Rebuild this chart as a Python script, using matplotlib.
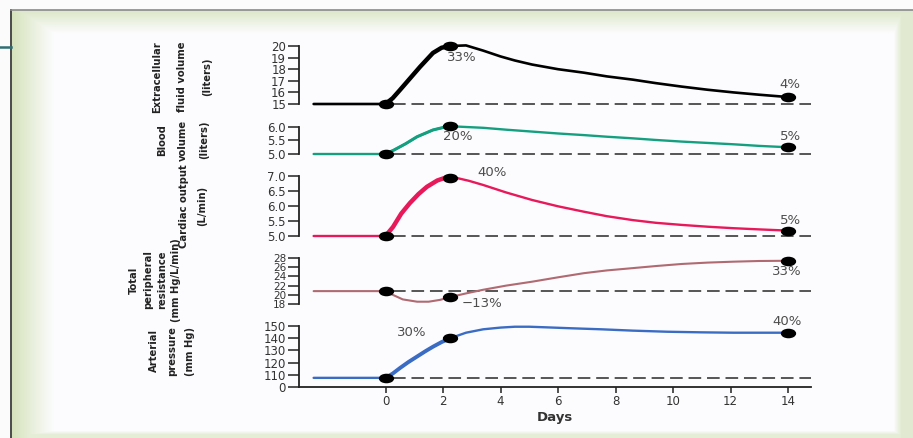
import numpy as np
import matplotlib
matplotlib.use("Agg")
import matplotlib.pyplot as plt
from matplotlib.path import Path
from matplotlib.transforms import Affine2D

# ---- data ----
ecf_days = [-2.5, 0, 0.25, 0.5, 0.85, 1.2, 1.65, 1.95, 2.24, 2.8, 3.4, 4.0, 4.5, 5.1,
            6.0, 6.9, 7.7, 8.6, 9.4, 10.3, 11.2, 12.1, 13.0, 14]
ecf_vals = [15, 15, 15.5, 16.2, 17.2, 18.2, 19.4, 19.85, 20.0, 20.05, 19.6, 19.1, 18.75, 18.4,
            18.0, 17.7, 17.38, 17.1, 16.8, 16.5, 16.23, 16.0, 15.8, 15.6]
ecf_marks_days = [0, 2.24, 14]
ecf_marks_vals = [15, 20.0, 15.6]

bv_days = [-2.5, 0, 0.3, 0.7, 1.1, 1.65, 2.0, 2.24, 2.8, 3.4, 4.2, 5.1, 6.0, 6.9, 7.7,
           8.6, 9.4, 10.3, 11.2, 12.1, 13.0, 14]
bv_vals = [5, 5, 5.15, 5.38, 5.64, 5.89, 5.98, 6.03, 6.0, 5.97, 5.9, 5.83, 5.76, 5.7, 5.64,
           5.58, 5.52, 5.46, 5.41, 5.36, 5.3, 5.25]
bv_marks_days = [0, 2.24, 14]
bv_marks_vals = [5, 6.03, 5.25]

co_days = [-2.5, 0, 0.26, 0.55, 0.85, 1.15, 1.44, 1.8, 2.1, 2.5, 2.9, 3.4, 4.2, 5.1, 6.0,
           6.9, 7.7, 8.6, 9.4, 10.3, 11.2, 12.1, 13.0, 14]
co_vals = [5, 5, 5.3, 5.75, 6.1, 6.4, 6.64, 6.85, 6.95, 6.93, 6.84, 6.7, 6.45, 6.2, 5.99,
           5.81, 5.66, 5.53, 5.44, 5.37, 5.31, 5.26, 5.22, 5.18]
co_marks_days = [0, 2.24, 14]
co_marks_vals = [5, 6.95, 5.18]

tpr_days = [-2.5, 0, 0.25, 0.6, 1.1, 1.5, 1.9, 2.24, 2.8, 3.4, 4.2, 5.1, 6.0, 6.9, 7.7,
            8.6, 9.4, 10.3, 11.2, 12.1, 13.0, 14]
tpr_vals = [20.8, 20.8, 20.0, 19.0, 18.5, 18.5, 18.9, 19.5, 20.3, 21.1, 22.0, 22.85, 23.8,
            24.7, 25.3, 25.8, 26.25, 26.7, 27.0, 27.2, 27.35, 27.4]
tpr_marks_days = [0, 2.24, 14]
tpr_marks_vals = [20.8, 19.5, 27.4]

ap_days = [-2.5, 0, 0.25, 0.5, 0.8, 1.1, 1.4, 1.65, 1.95, 2.24, 2.8, 3.4, 4.0, 4.5, 5.0,
           5.6, 6.5, 7.5, 8.6, 9.8, 11.0, 12.1, 13.0, 14]
ap_vals = [107.5, 107.5, 111, 115.5, 120.5, 125, 129.5, 133, 136.8, 139.9, 144.5, 147.3,
           148.7, 149.4, 149.4, 148.9, 148.1, 147.3, 146.2, 145.3, 144.8, 144.5, 144.5, 144.5]
ap_marks_days = [0, 2.24, 14]
ap_marks_vals = [107.5, 139.9, 144.5]

day_ticks = [0, 2, 4, 6, 8, 10, 12, 14]
ap_tick_pos = [100, 110, 120, 130, 140, 150]
ap_tick_labels = ["0", "110", "120", "130", "140", "150"]

W, H = 913, 438
fig = plt.figure(figsize=(W / 100, H / 100), dpi=100)
fig.patch.set_facecolor("#fbfbfb")

# ---- slide frame in the background ----
bg = fig.add_axes([0, 0, 1, 1])
bg.set_zorder(-5)
yy, xx = np.mgrid[0:H, 0:W].astype(float)
t = np.maximum.reduce([
    np.clip(1 - (xx - 12) / 42, 0, 1),
    np.clip(1 - (yy - 11) / 22, 0, 1) * 0.8,
    np.clip((xx - 893) / 8, 0, 1) * 0.7,
    np.clip((yy - 430) / 4, 0, 1) * 0.6,
])
green = np.array([0.84, 0.89, 0.74])
white = np.array([0.99, 0.99, 1.0])
img = white[None, None, :] * (1 - t[..., None]) + green[None, None, :] * t[..., None]
outside = (xx < 11) | (yy < 10)
img[outside] = [0.985, 0.985, 0.985]
bg.imshow(img, extent=(0, W, H, 0), interpolation="bilinear")
bg.plot([11, 11], [10, H], color="#4a4a4a", lw=1.4)
bg.plot([11, W], [10, 10], color="#8a8a8a", lw=1.2)
bg.plot([0, 11], [47, 47], color="#2e6e74", lw=1.8)
bg.set_xlim(0, W)
bg.set_ylim(H, 0)
bg.axis("off")

ell = Path.unit_circle().transformed(Affine2D().scale(1.7, 1.0))

x_left, x_right = -3.0, 14.8
ax_l = 299.25 / W
ax_w = (811 - 299.25) / W


def make_axes(top_px, bot_px, ylim, ticks, labels=None):
    ax = fig.add_axes([ax_l, 1 - bot_px / H, ax_w, (bot_px - top_px) / H])
    ax.patch.set_alpha(0)
    ax.set_xlim(x_left, x_right)
    ax.set_ylim(*ylim)
    for s in ["top", "right", "bottom"]:
        ax.spines[s].set_visible(False)
    ax.spines["left"].set_linewidth(1.3)
    ax.spines["left"].set_color("#222222")
    ax.set_yticks(ticks)
    if labels is not None:
        ax.set_yticklabels(labels)
    ax.tick_params(axis="y", length=8, width=1.1, color="#222222",
                   labelsize=8.5, labelcolor="#333333", pad=1.5)
    ax.set_xticks([])
    return ax


def draw(ax, days, vals, n_rise, color, base, mdays, mvals, lw=1.6, lw_rise=2.8):
    ax.plot([0.25, 14.8], [base, base], color="#555555", lw=1.4,
            dashes=(6.5, 3), clip_on=False, zorder=1)
    ax.plot(days, vals, color=color, lw=lw, solid_capstyle="round",
            solid_joinstyle="round", clip_on=False, zorder=2)
    ax.plot(days[1:n_rise], vals[1:n_rise], color=color, lw=lw_rise,
            solid_capstyle="round", solid_joinstyle="round", clip_on=False, zorder=2)
    ax.plot(mdays, mvals, ls="none", marker=ell, ms=10, color="black",
            clip_on=False, zorder=3)


note = dict(color="#4d4d4d", fontsize=9.5, ha="center", va="center")

ax1 = make_axes(46, 104, (15, 20), [15, 16, 17, 18, 19, 20])
draw(ax1, ecf_days, ecf_vals, 9, "black", 15, ecf_marks_days, ecf_marks_vals,
     lw=1.9, lw_rise=3.2)
ax1.text(2.66, 19.05, "33%", **note)
ax1.text(14.07, 16.64, "4%", **note)

ax2 = make_axes(127, 154, (5, 6), [5.0, 5.5, 6.0], ["5.0", "5.5", "6.0"])
draw(ax2, bv_days, bv_vals, 8, "#14a07f", 5, bv_marks_days, bv_marks_vals,
     lw=1.7, lw_rise=2.2)
ax2.text(2.52, 5.63, "20%", **note)
ax2.text(14.07, 5.63, "5%", **note)

ax3 = make_axes(176, 236, (5, 7), [5.0, 5.5, 6.0, 6.5, 7.0],
                ["5.0", "5.5", "6.0", "6.5", "7.0"])
draw(ax3, co_days, co_vals, 9, "#e8195a", 5, co_marks_days, co_marks_vals,
     lw=1.7, lw_rise=3.2)
ax3.text(3.7, 7.13, "40%", **note)
ax3.text(14.07, 5.5, "5%", **note)

ax4 = make_axes(258, 304, (18, 28), [18, 20, 22, 24, 26, 28])
ax4.tick_params(axis="y", labelsize=7.5)
draw(ax4, tpr_days, tpr_vals, 1, "#b06a72", 20.8, tpr_marks_days, tpr_marks_vals,
     lw=1.5, lw_rise=1.5)
ax4.text(3.36, 18.0, "\u221213%", **note)
ax4.text(13.97, 24.96, "33%", **note)

ax5 = make_axes(326, 387, (100, 150), ap_tick_pos, ap_tick_labels)
ax5.spines["bottom"].set_visible(True)
ax5.spines["bottom"].set_linewidth(1.3)
ax5.spines["bottom"].set_color("#222222")
ax5.set_xticks(day_ticks)
ax5.tick_params(axis="x", length=4, width=1.1, color="#222222",
                labelsize=8.5, labelcolor="#333333", pad=2)
draw(ax5, ap_days, ap_vals, 10, "#3b6cc4", 107.5, ap_marks_days, ap_marks_vals,
     lw=1.7, lw_rise=2.8)
ax5.text(0.92, 144.3, "30%", **note)
ax5.text(13.97, 153.3, "40%", **note)
ax5.set_xlabel("Days", fontsize=9.5, fontweight="bold", color="#333333", labelpad=2)

# ---- rotated panel labels ----
lab = dict(rotation=90, ha="center", va="center", multialignment="center",
           fontsize=8, fontweight="bold", fontstretch="condensed", color="#222222",
           family=["Liberation Sans Narrow", "DejaVu Sans"],
           transform=bg.transData)
bg.text(182, 77, "Extracellular\nfluid volume\n(liters)", linespacing=2.9, **lab)
bg.text(183, 140, "Blood\nvolume\n(liters)", linespacing=2.4, **lab)
bg.text(193, 206, "Cardiac output\n(L/min)", linespacing=2.0, **lab)
bg.text(155, 280, "Total\nperipheral\nresistance\n(mm Hg/L/min)", linespacing=1.5, **lab)
bg.text(172, 351, "Arterial\npressure\n(mm Hg)", linespacing=2.0, **lab)

fig.savefig("out.png", dpi=100)
